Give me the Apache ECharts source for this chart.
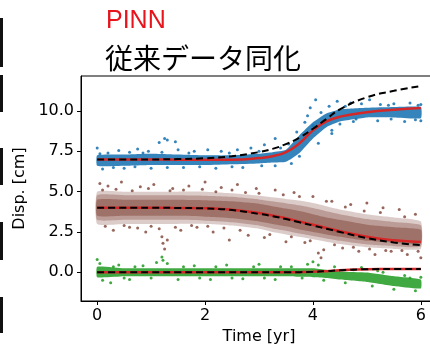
<!DOCTYPE html>
<html>
<head>
<meta charset="utf-8">
<script src="https://cdn.jsdelivr.net/npm/echarts@6/dist/echarts.min.js"></script>
<style>
  html, body { margin: 0; padding: 0; background: #fff; }
  #main { width: 430px; height: 344px; }
</style>
</head>
<body>
<div id="main"></div>
<script>
// time grid (yr) shared by the fitted curves and the scatter bands
var tGrid = [0, 0.5, 1, 1.5, 2, 2.5, 3, 3.25, 3.5, 3.75, 4, 4.25, 4.5, 5, 5.5, 6];

// blue series
var bluePinn = [7.0, 7.0, 7.0, 6.98, 6.97, 6.98, 7.08, 7.2, 7.45, 8.0, 8.8, 9.35, 9.65, 9.92, 10.08, 10.18];
var blueConv = [7.0, 7.0, 7.0, 7.02, 7.07, 7.2, 7.45, 7.65, 7.95, 8.35, 8.9, 9.5, 10.1, 10.85, 11.25, 11.55];
var blueLo = [6.6, 6.6, 6.65, 6.65, 6.65, 6.7, 6.75, 6.8, 6.85, 7.4, 8.3, 9.0, 9.35, 9.6, 9.6, 9.55];
var blueHi = [7.25, 7.3, 7.35, 7.3, 7.25, 7.25, 7.35, 7.45, 7.6, 8.5, 9.3, 9.85, 10.1, 10.2, 10.25, 10.25];
var blueDots = [[0.0, 7.7], [0.05, 7.35], [0.4, 7.55], [0.6, 7.45], [0.75, 7.65], [0.95, 7.5], [1.15, 8.05],
  [1.25, 8.3], [1.3, 8.2], [1.45, 8.1], [1.5, 7.6], [1.8, 7.5], [2.05, 7.6], [2.3, 7.5], [2.6, 7.6],
  [2.85, 7.7], [3.1, 7.9], [3.3, 8.3], [3.55, 7.95], [3.7, 8.7], [3.85, 9.3], [3.9, 9.7], [3.95, 10.2],
  [4.0, 9.1], [4.05, 10.7], [4.15, 9.9], [4.3, 10.3], [4.35, 8.8], [4.45, 10.6], [4.7, 10.5], [4.9, 10.45],
  [5.05, 10.7], [5.25, 10.4], [5.5, 10.45], [5.8, 10.5], [6.0, 10.4], [0.1, 6.4], [0.5, 6.45], [1.0, 6.45],
  [1.6, 6.5], [2.2, 6.45], [2.7, 6.5], [3.3, 6.6], [3.6, 6.75], [3.75, 7.2], [4.1, 8.0], [4.35, 8.6],
  [4.5, 9.2], [4.75, 9.35], [5.2, 9.4], [5.7, 9.35], [6.0, 9.4], [0.2, 7.4], [0.85, 7.4], [1.2, 7.45],
  [1.7, 7.4], [2.45, 7.4], [3.0, 7.5], [3.4, 7.7], [0.3, 6.5], [0.7, 6.55], [1.3, 6.5], [1.9, 6.55],
  [2.5, 6.55], [3.05, 6.6], [4.6, 10.3], [5.4, 10.35], [5.95, 10.35], [4.8, 9.5], [5.45, 9.5], [5.9, 9.45]];

// brown series
var brownPinn = [4.0, 4.0, 4.0, 3.99, 3.97, 3.88, 3.68, 3.52, 3.35, 3.15, 2.95, 2.75, 2.55, 2.2, 1.98, 1.88];
var brownConv = [4.0, 4.0, 4.0, 3.99, 3.96, 3.86, 3.62, 3.48, 3.3, 3.1, 2.9, 2.7, 2.5, 2.12, 1.85, 1.68];
var brownOutLo = [3.0, 3.0, 3.0, 3.0, 3.0, 2.9, 2.7, 2.5, 2.35, 2.2, 2.05, 1.9, 1.75, 1.55, 1.45, 1.45];
var brownOutHi = [5.0, 5.0, 5.0, 5.0, 5.0, 4.9, 4.75, 4.65, 4.55, 4.45, 4.3, 4.1, 3.9, 3.6, 3.4, 3.15];
var brownMidLo = [3.25, 3.25, 3.25, 3.25, 3.2, 3.1, 2.9, 2.72, 2.58, 2.4, 2.25, 2.1, 1.95, 1.72, 1.62, 1.6];
var brownMidHi = [4.78, 4.78, 4.78, 4.78, 4.75, 4.68, 4.52, 4.4, 4.28, 4.15, 3.98, 3.78, 3.6, 3.3, 3.12, 2.92];
var brownInLo = [3.5, 3.5, 3.5, 3.5, 3.45, 3.35, 3.15, 3.0, 2.85, 2.65, 2.5, 2.35, 2.2, 1.95, 1.83, 1.78];
var brownInHi = [4.5, 4.5, 4.5, 4.5, 4.47, 4.4, 4.25, 4.1, 3.95, 3.8, 3.6, 3.4, 3.25, 2.95, 2.8, 2.65];
var brownDots = [[0.05, 5.5], [0.2, 5.35], [0.3, 2.6], [0.45, 5.6], [0.6, 2.8], [0.8, 5.3], [0.9, 2.5],
  [1.05, 5.45], [1.15, 2.7], [1.2, 2.2], [1.22, 1.8], [1.25, 1.45], [1.3, 2.0], [1.4, 5.2], [1.55, 2.6],
  [1.7, 5.35], [1.85, 2.8], [2.0, 5.6], [2.15, 2.5], [2.3, 5.25], [2.45, 2.0], [2.6, 5.45], [2.8, 2.3],
  [2.95, 5.2], [3.1, 2.15], [3.3, 5.1], [3.5, 1.9], [3.65, 4.95], [3.85, 1.85], [4.0, 4.7], [4.1, 1.2],
  [4.15, 0.9], [4.2, 1.4], [4.35, 4.4], [4.55, 1.5], [4.7, 4.2], [4.85, 1.3], [5.0, 4.3], [5.15, 1.1],
  [5.3, 4.0], [5.45, 1.3], [5.6, 3.9], [5.75, 1.1], [5.9, 3.6], [6.0, 0.9], [0.1, 5.1], [0.35, 5.15],
  [0.65, 5.05], [0.95, 5.2], [1.35, 5.05], [1.6, 5.1], [1.95, 5.15], [2.2, 5.0], [2.5, 5.1], [2.75, 4.95],
  [3.0, 4.9], [3.45, 4.8], [3.75, 4.7], [4.25, 4.4], [4.6, 4.05], [4.95, 3.8], [5.25, 3.7], [5.7, 3.45],
  [0.15, 2.85], [0.5, 2.9], [0.75, 2.75], [1.0, 2.85], [1.45, 2.8], [1.75, 2.9], [2.05, 2.85], [2.35, 2.75],
  [2.65, 2.6], [3.2, 2.35], [3.6, 2.2], [3.95, 1.95], [4.4, 1.7], [4.75, 1.55], [5.05, 1.45], [5.35, 1.35],
  [5.65, 1.35], [5.95, 1.3]];

// green series
var greenPinn = [0, 0, 0, 0, 0, 0, 0, 0, 0, 0.01, 0.03, 0.07, 0.12, 0.19, 0.2, 0.2];
var greenConv = [0, 0, 0, 0, 0, 0, 0, 0, 0, 0.01, 0.03, 0.07, 0.12, 0.19, 0.2, 0.2];
var greenLo = [-0.3, -0.25, -0.25, -0.25, -0.25, -0.25, -0.25, -0.25, -0.25, -0.28, -0.3, -0.35, -0.45, -0.6, -0.85, -1.0];
var greenHi = [0.35, 0.25, 0.25, 0.25, 0.25, 0.25, 0.25, 0.25, 0.25, 0.25, 0.25, 0.15, 0.05, -0.02, -0.25, -0.45];
var greenDots = [[0.0, 0.8], [0.05, 0.55], [0.1, -0.5], [0.25, -0.65], [0.4, 0.45], [0.6, -0.45], [0.85, 0.4],
  [1.1, 0.6], [1.2, 0.95], [1.22, 0.75], [1.3, 0.55], [1.5, -0.45], [1.8, 0.4], [2.1, -0.45], [2.4, 0.45],
  [2.7, -0.4], [3.0, 0.5], [3.3, -0.45], [3.6, 0.35], [3.9, 0.5], [4.0, 0.65], [4.1, 0.45], [4.2, -0.5],
  [4.4, 0.35], [4.6, -0.65], [4.9, 0.3], [5.1, -0.85], [5.3, 0.0], [5.5, -1.05], [5.7, -0.2], [5.9, -1.15],
  [6.0, -0.3], [0.3, 0.35], [0.7, 0.35], [1.6, 0.35], [2.2, 0.35], [2.9, 0.35], [3.4, 0.35], [0.5, -0.35],
  [1.0, -0.35], [1.9, -0.35], [2.5, -0.35], [3.1, -0.35], [3.8, -0.35], [4.75, 0.15], [5.2, 0.1], [5.8, -0.35]];

var xTicks = [0, 2, 4, 6];
var yTicks = [0, 2.5, 5, 7.5, 10];

function pairs(ys) {
  return tGrid.map(function (t, i) { return [t, ys[i]]; });
}

// filled band between two boundary curves, drawn through the axis scales
function band(lo, hi, color, opacity) {
  return {
    type: "custom",
    data: [[0, 0]],
    silent: true,
    z: 1,
    renderItem: function (params, api) {
      var pts = [];
      tGrid.forEach(function (t, i) { pts.push(api.coord([t, hi[i]])); });
      for (var i = tGrid.length - 1; i >= 0; i--) pts.push(api.coord([tGrid[i], lo[i]]));
      return {
        type: "polygon",
        shape: { points: pts, smooth: 0.15 },
        style: { fill: color, opacity: opacity }
      };
    }
  };
}

function dots(data, color) {
  return { type: "scatter", data: data, symbolSize: 3, itemStyle: { color: color, opacity: 0.9 }, z: 2, silent: true };
}

function fit(ys) {
  return { type: "line", data: pairs(ys), smooth: true, showSymbol: false, z: 3, silent: true,
    lineStyle: { color: "#d62728", width: 2.5 } };
}

function conv(ys) {
  return { type: "line", data: pairs(ys), smooth: true, showSymbol: false, z: 4, silent: true,
    lineStyle: { color: "#000", width: 2, type: [7, 4] } };
}

var chart = echarts.init(document.getElementById("main"));
chart.setOption({
  animation: false,
  title: [
    { text: "PINN", left: 101, top: 4,
      textStyle: { color: "#e8141c", fontSize: 25, fontWeight: "normal", fontFamily: "Liberation Sans" } },
    { text: "従来データ同化", left: 100, top: 39,
      textStyle: { color: "#000", fontSize: 28, fontWeight: "normal", fontFamily: "Noto Sans CJK JP" } }
  ],
  grid: { left: 81, top: 76, right: -7, bottom: 43, show: true, borderColor: "#000", borderWidth: 1,
    outerBoundsMode: "none" },
  xAxis: {
    type: "value", min: -0.3, max: 6.3,
    name: "Time [yr]", nameLocation: "middle", nameGap: 25,
    nameTextStyle: { fontSize: 16, color: "#000", fontFamily: "DejaVu Sans" },
    axisLine: { onZero: false, lineStyle: { color: "#000" } },
    axisTick: { customValues: xTicks, length: 4, lineStyle: { color: "#000" } },
    axisLabel: { customValues: xTicks, fontSize: 16, color: "#000", fontFamily: "DejaVu Sans", margin: 7 },
    splitLine: { show: false }
  },
  yAxis: {
    type: "value", min: -1.78, max: 12.17,
    name: "Disp. [cm]", nameLocation: "middle", nameGap: 51,
    nameTextStyle: { fontSize: 16, color: "#000", fontFamily: "DejaVu Sans" },
    axisLine: { show: true, onZero: false, lineStyle: { color: "#000" } },
    axisTick: { show: true, customValues: yTicks, length: 4, lineStyle: { color: "#000" } },
    axisLabel: { customValues: yTicks, fontSize: 16, color: "#000", fontFamily: "DejaVu Sans", margin: 7,
      formatter: function (v) { return v.toFixed(1); } },
    splitLine: { show: false }
  },
  series: [
    band(blueLo, blueHi, "#1f77b4", 0.9),
    dots(blueDots, "#1f77b4"),
    band(brownOutLo, brownOutHi, "#8c564b", 0.3),
    band(brownMidLo, brownMidHi, "#8c564b", 0.4),
    band(brownInLo, brownInHi, "#8c564b", 0.6),
    dots(brownDots, "#8c564b"),
    band(greenLo, greenHi, "#2ca02c", 0.9),
    dots(greenDots, "#2ca02c"),
    fit(bluePinn), conv(blueConv),
    fit(brownPinn), conv(brownConv),
    fit(greenPinn), conv(greenConv)
  ],
  // strip of the neighbouring panel at the left edge
  graphic: [
    { type: "rect", shape: { x: 0, y: 18, width: 3, height: 49 }, style: { fill: "#111" } },
    { type: "rect", shape: { x: 0, y: 75, width: 3, height: 37 }, style: { fill: "#111" } },
    { type: "rect", shape: { x: 0, y: 148, width: 3, height: 37 }, style: { fill: "#111" } },
    { type: "rect", shape: { x: 0, y: 222, width: 3, height: 38 }, style: { fill: "#111" } },
    { type: "rect", shape: { x: 0, y: 297, width: 3, height: 36 }, style: { fill: "#111" } }
  ]
});
</script>
</body>
</html>
